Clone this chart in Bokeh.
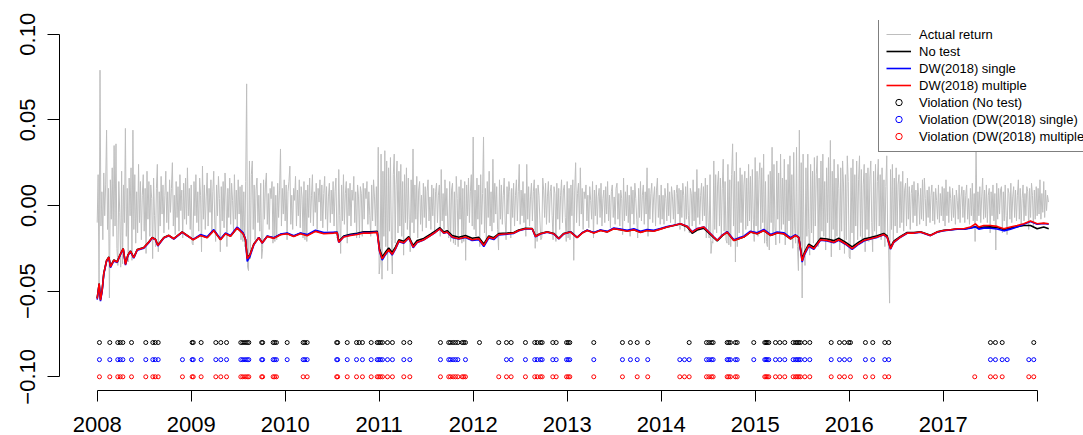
from bokeh.plotting import figure
from bokeh.models import Range1d, FixedTicker, Legend, LegendItem
from bokeh.embed import file_html
from bokeh.resources import INLINE

# ---------------- data ----------------
year_ticks = [2008, 2009, 2010, 2011, 2012, 2013, 2014, 2015, 2016, 2017, 2018]
y_ticks = [-0.1, -0.05, 0.0, 0.05, 0.1]
y_tick_labels = {-0.1: "\u22120.10", -0.05: "\u22120.05", 0.0: "0.00", 0.05: "0.05", 0.1: "0.10"}

# actual return, one value every obs_step years, stored in units of 0.001
obs_start = 2008.0
obs_step = 0.01
ret_unit = 0.001
ret_2008 = [-10, 18, -50, 79, -12, 8, -20, 19, -6, 12, 44, -14, 10, -54, 15, -8, 22, -18, 35, -12,
            36, -25, -35, 14, -4, -36, 20, -34, 12, -10, 45, -18, 10, -33, 16, -6, 22, -32, 44, -14,
            18, -22, 8, -16, 24, -10, 14, -20, 6, 18, -15, 10, -28, 20, -8, 14, -18, 12, 4, -31,
            16, -6, -24, 10, 24, -27, 8, -12, 17, -5, 12, -16, 6, 20, -10, 8, -14, 15, -4, 10,
            25, -12, 6, -17, 14, -7, 11, -15, 18, -3, 9, -19, 13, -8, 16, -11, 22, -6, 10, -14]
ret_2009 = [12, -22, -23, 14, -6, 18, -10, 8, -15, 16, 6, -27, 23, -8, 12, -14, 5, 19, -12, 10,
            -4, 15, -16, 8, 20, -9, -21, 12, -6, 17, 4, -27, 11, -9, 14, -13, 19, 5, -24, 10,
            -7, 16, -11, 13, 3, -15, 18, -8, 9, -12, 15, -5, 11, -20, 12, -21, 8, -24, 14, 71,
            -36, -38, 26, -31, 18, 26, -14, 12, -20, 9, 16, -10, 6, -15, 13, -31, -25, 15, -8, 12,
            19, -11, 7, -14, 10, 4, 14, -22, 11, -21, 6, -20, 13, -7, 9, 33, -12, 10, -5, 15]
ret_2010 = [-9, 12, -20, 8, 14, 23, -11, 6, -14, 10, 3, 17, -12, 9, -6, 15, -13, 11, 5, -19,
            14, -20, 9, -21, 12, -7, 16, -10, 6, 18, -12, 8, -4, 13, -14, 10, 2, 15, -9, 12,
            -13, 7, 17, -8, 11, -15, 5, 13, -10, 9, -5, 14, -12, 8, 16, -19, -18, 21, -6, -28,
            12, -9, 18, -11, 7, 14, -22, 10, -6, 13, -12, 9, 3, 17, -10, 8, -19, 12, 5, -19,
            11, 7, -18, 13, -8, 10, 4, 14, -11, 8, -6, -18, 12, -9, 15, 5, -12, 11, -17, 34]
ret_2011 = [-40, -33, 30, -43, 20, -18, 32, -24, 26, -38, 22, -15, 28, -20, -40, 18, 30, -22, 12, 26,
            -16, 20, -12, 24, -18, 14, -29, 18, -10, 22, -14, 16, -8, -27, 15, -10, 33, -16, 12, -8,
            17, -19, 9, 14, -11, 6, -15, 13, -7, 11, -13, 8, 15, -9, 5, -14, 12, -6, 10, -15,
            8, 13, -10, 6, 12, -18, 21, -9, 7, -14, 15, -6, 10, -12, -19, 14, -21, 9, 13, -22,
            8, -23, 17, 4, -24, 11, -8, 15, -22, 10, -21, 14, -32, 12, -6, 16, -10, 8, 18, -12]
ret_2012 = [40, -14, 9, -18, 16, -8, 12, -24, 18, -11, 7, 40, -16, 10, -20, 14, -7, 20, -12, 8,
            -15, 27, -10, 13, -5, 11, -14, -26, 15, -8, 12, -11, 6, 16, -9, -20, 11, -5, 14, 8,
            -19, 10, -7, 13, -12, 6, 15, -9, 8, 24, -11, 9, -6, 14, -10, 7, -18, 24, -8, 11,
            -12, 5, 13, -9, 8, 15, -25, 10, -21, 12, 6, -9, -20, -19, 16, 9, -7, 13, -11, 5,
            14, -10, 8, 12, -6, -20, 11, 7, -21, 13, -8, 10, -14, 6, 15, -10, 9, 12, -7, -21]
ret_2013 = [14, -19, 10, -20, 12, -6, 15, -32, 9, 25, -10, 7, 13, -12, 22, -5, 10, -14, 8, 4,
            12, -9, 6, -13, 11, 3, -8, 14, -19, 9, -6, 12, -11, 5, 10, -7, 13, -12, 4, 9,
            -10, 11, -5, 14, -9, 6, -13, 8, 12, -7, 5, -11, 10, 13, -8, 7, -12, 9, 4, -17,
            16, -9, 8, -6, 12, -10, 6, -18, 11, -5, 9, -11, 13, 4, -8, -19, 10, -7, 14, -9,
            6, 12, -11, 8, -5, 22, -18, 10, -8, 7, 13, -10, 5, 11, -12, 9, 16, -7, 6, -11]
ret_2014 = [12, -8, 6, -11, 10, 4, -9, 13, -6, 8, -10, 11, 5, -8, 9, -12, 7, 12, -5, 10,
            -14, 9, -7, 13, 6, -15, 11, -8, 14, -6, -16, 10, 7, -12, 15, -9, 8, -13, 21, -7,
            10, -11, 6, 13, -9, 11, -6, 16, -19, 12, -10, -19, 18, -28, -21, -22, 26, -14, 18, -16,
            12, 20, -12, 16, -18, 10, 27, -15, 14, -20, -22, 24, -23, 15, -24, 18, 36, -12, 20, -33,
            31, -24, 14, -16, 22, -10, 18, -18, 12, 20, -14, 16, -12, 24, -9, 17, -15, 21, -8, -21]
ret_2015 = [28, -12, 20, -18, 15, 25, -14, 22, -10, 30, -22, 14, -21, -24, 18, -26, 20, -10, 34, -16,
            24, -12, -23, 26, -8, 19, -22, 30, -14, 16, -11, 27, -23, 15, -18, 24, -9, 29, -20, 18,
            -25, 31, -12, -22, 34, -24, -38, 44, -26, 25, -54, 30, -20, -35, 22, -18, 30, -14, -29, 24,
            -16, 20, -22, 28, -12, 18, 29, -24, 16, -20, 26, -15, 30, -18, 14, -26, 22, -10, 28, -21,
            38, -30, 20, -14, 27, -22, 16, -18, 24, 10, -26, 22, -15, 26, 12, -28, 18, -20, 29, 14]
ret_2016 = [-30, -31, 22, -16, 27, -24, 18, -12, 26, -20, 15, 29, -18, 21, -22, 12, 24, -27, 19, -14,
            22, -21, 16, 26, -10, -27, 20, -15, 24, -19, 14, 27, -12, 18, -20, 22, -16, 15, -24, 11,
            29, -18, -26, -57, 21, -14, 24, -20, 16, -12, 22, -16, 12, 18, -13, 14, -10, 20, -15, 9,
            13, -12, 16, -8, 11, -14, 7, 12, -10, 14, -6, 9, -12, 13, 5, -11, 10, -8, 15, -9,
            16, 4, -12, 9, -7, 11, -10, 6, 12, -9, 8, -11, 10, 3, -8, 12, -10, 7, -6, 11]
ret_2017 = [-9, 10, -12, 15, -6, 8, -10, 11, 4, -9, 10, -7, 6, -11, 9, 3, -8, 12, -10, 5,
            11, -7, 9, -10, 6, 12, -8, 4, -11, 10, -6, 13, -9, 7, -21, 35, -9, 8, -6, 11,
            -10, 5, 16, -8, 9, -7, 12, -10, 6, 10, -16, 8, -6, 12, -9, 7, -26, 13, -8, 10,
            -5, 9, 11, -16, 8, -9, 12, -6, -17, 10, 7, -8, 13, -10, 5, 11, -7, 9, -9, 6,
            15, -8, 10, -11, 4, 12, -9, 7, -6, 11, 8, -14, 10, -7, 13, 6, -13, 9, -8, 11]
ret_2018 = [-6, 10, -5, 15, -8, 7, -4, 14, -7, 9, -3, 6, 2]

# VaR forecasts (dates in decimal years)
var_t = [2008.000, 2008.021, 2008.035, 2008.053, 2008.070, 2008.099, 2008.124, 2008.141, 2008.177, 2008.213,
         2008.241, 2008.277, 2008.301, 2008.326, 2008.354, 2008.389, 2008.426, 2008.496, 2008.549, 2008.585,
         2008.620, 2008.645, 2008.709, 2008.762, 2008.815, 2008.904, 2008.957, 2009.021, 2009.099, 2009.170,
         2009.240, 2009.312, 2009.365, 2009.418, 2009.489, 2009.553, 2009.578, 2009.596, 2009.624, 2009.666,
         2009.719, 2009.755, 2009.809, 2009.879, 2009.950, 2010.021, 2010.091, 2010.163, 2010.234, 2010.322,
         2010.411, 2010.517, 2010.553, 2010.570, 2010.623, 2010.695, 2010.766, 2010.836, 2010.907, 2010.979,
         2011.003, 2011.032, 2011.067, 2011.102, 2011.138, 2011.173, 2011.209, 2011.262, 2011.315, 2011.362,
         2011.404, 2011.474, 2011.546, 2011.599, 2011.645, 2011.687, 2011.723, 2011.777, 2011.847, 2011.918,
         2011.989, 2012.060, 2012.113, 2012.166, 2012.219, 2012.272, 2012.362, 2012.432, 2012.485, 2012.556,
         2012.628, 2012.663, 2012.716, 2012.787, 2012.857, 2012.911, 2012.964, 2013.035, 2013.106, 2013.160,
         2013.213, 2013.283, 2013.354, 2013.426, 2013.496, 2013.567, 2013.638, 2013.709, 2013.780, 2013.851,
         2013.921, 2013.992, 2014.064, 2014.134, 2014.205, 2014.277, 2014.330, 2014.383, 2014.453, 2014.506,
         2014.559, 2014.596, 2014.649, 2014.702, 2014.773, 2014.826, 2014.879, 2014.950, 2015.021, 2015.092,
         2015.163, 2015.234, 2015.304, 2015.376, 2015.429, 2015.464, 2015.500, 2015.524, 2015.570, 2015.624,
         2015.695, 2015.766, 2015.836, 2015.889, 2015.960, 2016.032, 2016.102, 2016.156, 2016.226, 2016.298,
         2016.368, 2016.404, 2016.440, 2016.474, 2016.546, 2016.617, 2016.688, 2016.759, 2016.865, 2016.936,
         2017.006, 2017.078, 2017.149, 2017.219, 2017.290, 2017.343, 2017.379, 2017.432, 2017.503, 2017.574,
         2017.645, 2017.716, 2017.787, 2017.858, 2017.929, 2018.000, 2018.070, 2018.123]
var_notest = [-0.0540, -0.0456, -0.0548, -0.0492, -0.0396, -0.0322, -0.0300, -0.0356, -0.0318, -0.0328,
              -0.0290, -0.0251, -0.0341, -0.0290, -0.0265, -0.0303, -0.0257, -0.0245, -0.0213, -0.0187,
              -0.0197, -0.0231, -0.0187, -0.0174, -0.0193, -0.0154, -0.0174, -0.0199, -0.0174, -0.0187,
              -0.0145, -0.0199, -0.0164, -0.0179, -0.0131, -0.0164, -0.0199, -0.0305, -0.0287, -0.0225,
              -0.0187, -0.0217, -0.0180, -0.0190, -0.0169, -0.0163, -0.0179, -0.0162, -0.0174, -0.0148,
              -0.0162, -0.0158, -0.0156, -0.0209, -0.0178, -0.0168, -0.0162, -0.0154, -0.0154, -0.0151,
              -0.0252, -0.0300, -0.0272, -0.0248, -0.0274, -0.0243, -0.0200, -0.0209, -0.0181, -0.0234,
              -0.0205, -0.0192, -0.0167, -0.0148, -0.0130, -0.0154, -0.0147, -0.0175, -0.0185, -0.0175,
              -0.0191, -0.0186, -0.0225, -0.0178, -0.0188, -0.0164, -0.0161, -0.0158, -0.0143, -0.0133,
              -0.0134, -0.0178, -0.0163, -0.0153, -0.0163, -0.0191, -0.0163, -0.0153, -0.0186, -0.0159,
              -0.0144, -0.0159, -0.0145, -0.0154, -0.0135, -0.0141, -0.0149, -0.0141, -0.0156, -0.0145,
              -0.0149, -0.0137, -0.0126, -0.0117, -0.0108, -0.0126, -0.0162, -0.0143, -0.0132, -0.0160,
              -0.0188, -0.0207, -0.0177, -0.0156, -0.0204, -0.0194, -0.0184, -0.0155, -0.0165, -0.0146,
              -0.0175, -0.0161, -0.0165, -0.0194, -0.0174, -0.0186, -0.0312, -0.0274, -0.0226, -0.0244,
              -0.0192, -0.0196, -0.0205, -0.0191, -0.0214, -0.0242, -0.0214, -0.0196, -0.0187, -0.0177,
              -0.0163, -0.0178, -0.0244, -0.0208, -0.0180, -0.0158, -0.0158, -0.0153, -0.0173, -0.0154,
              -0.0145, -0.0142, -0.0137, -0.0138, -0.0130, -0.0124, -0.0132, -0.0126, -0.0125, -0.0128,
              -0.0140, -0.0132, -0.0124, -0.0117, -0.0117, -0.0136, -0.0126, -0.0136]
var_single = [-0.0550, -0.0460, -0.0558, -0.0500, -0.0402, -0.0328, -0.0305, -0.0362, -0.0324, -0.0333,
              -0.0294, -0.0255, -0.0348, -0.0294, -0.0269, -0.0308, -0.0261, -0.0249, -0.0217, -0.0190,
              -0.0200, -0.0236, -0.0190, -0.0177, -0.0196, -0.0157, -0.0177, -0.0198, -0.0170, -0.0183,
              -0.0141, -0.0195, -0.0160, -0.0175, -0.0126, -0.0160, -0.0197, -0.0326, -0.0300, -0.0230,
              -0.0186, -0.0220, -0.0178, -0.0188, -0.0167, -0.0161, -0.0177, -0.0160, -0.0170, -0.0144,
              -0.0158, -0.0156, -0.0156, -0.0216, -0.0182, -0.0172, -0.0166, -0.0158, -0.0158, -0.0155,
              -0.0266, -0.0318, -0.0287, -0.0262, -0.0289, -0.0255, -0.0211, -0.0220, -0.0190, -0.0246,
              -0.0216, -0.0201, -0.0176, -0.0156, -0.0137, -0.0162, -0.0156, -0.0186, -0.0196, -0.0187,
              -0.0204, -0.0199, -0.0240, -0.0190, -0.0199, -0.0172, -0.0167, -0.0163, -0.0147, -0.0137,
              -0.0137, -0.0183, -0.0166, -0.0156, -0.0166, -0.0195, -0.0166, -0.0154, -0.0187, -0.0159,
              -0.0144, -0.0158, -0.0143, -0.0151, -0.0131, -0.0137, -0.0144, -0.0136, -0.0151, -0.0140,
              -0.0145, -0.0134, -0.0123, -0.0115, -0.0106, -0.0121, -0.0153, -0.0134, -0.0125, -0.0154,
              -0.0183, -0.0203, -0.0173, -0.0152, -0.0200, -0.0189, -0.0179, -0.0150, -0.0159, -0.0140,
              -0.0169, -0.0155, -0.0159, -0.0188, -0.0171, -0.0186, -0.0330, -0.0288, -0.0238, -0.0256,
              -0.0203, -0.0207, -0.0217, -0.0203, -0.0226, -0.0256, -0.0226, -0.0207, -0.0196, -0.0186,
              -0.0171, -0.0186, -0.0255, -0.0216, -0.0185, -0.0162, -0.0162, -0.0156, -0.0176, -0.0156,
              -0.0147, -0.0143, -0.0138, -0.0139, -0.0132, -0.0125, -0.0138, -0.0132, -0.0133, -0.0137,
              -0.0148, -0.0138, -0.0125, -0.0110, -0.0094, -0.0109, -0.0105, -0.0109]
var_multiple = [-0.0544, -0.0456, -0.0553, -0.0495, -0.0398, -0.0324, -0.0301, -0.0359, -0.0320, -0.0330,
                -0.0291, -0.0252, -0.0344, -0.0291, -0.0266, -0.0305, -0.0258, -0.0246, -0.0214, -0.0188,
                -0.0198, -0.0233, -0.0188, -0.0175, -0.0194, -0.0155, -0.0175, -0.0200, -0.0175, -0.0188,
                -0.0146, -0.0200, -0.0165, -0.0180, -0.0132, -0.0165, -0.0200, -0.0311, -0.0291, -0.0227,
                -0.0188, -0.0219, -0.0181, -0.0192, -0.0171, -0.0165, -0.0181, -0.0165, -0.0177, -0.0151,
                -0.0165, -0.0161, -0.0159, -0.0214, -0.0184, -0.0175, -0.0169, -0.0161, -0.0161, -0.0157,
                -0.0262, -0.0311, -0.0282, -0.0258, -0.0285, -0.0252, -0.0208, -0.0217, -0.0188, -0.0243,
                -0.0214, -0.0200, -0.0175, -0.0155, -0.0136, -0.0161, -0.0155, -0.0184, -0.0194, -0.0184,
                -0.0200, -0.0194, -0.0233, -0.0184, -0.0194, -0.0169, -0.0165, -0.0161, -0.0146, -0.0136,
                -0.0136, -0.0181, -0.0165, -0.0155, -0.0165, -0.0194, -0.0165, -0.0155, -0.0188, -0.0161,
                -0.0146, -0.0161, -0.0146, -0.0155, -0.0136, -0.0142, -0.0150, -0.0142, -0.0157, -0.0146,
                -0.0150, -0.0138, -0.0126, -0.0117, -0.0107, -0.0122, -0.0155, -0.0136, -0.0126, -0.0155,
                -0.0184, -0.0204, -0.0175, -0.0155, -0.0204, -0.0194, -0.0184, -0.0155, -0.0165, -0.0146,
                -0.0175, -0.0161, -0.0165, -0.0194, -0.0175, -0.0188, -0.0324, -0.0282, -0.0233, -0.0252,
                -0.0200, -0.0204, -0.0214, -0.0200, -0.0223, -0.0252, -0.0223, -0.0204, -0.0194, -0.0184,
                -0.0169, -0.0184, -0.0252, -0.0214, -0.0184, -0.0161, -0.0161, -0.0155, -0.0175, -0.0155,
                -0.0146, -0.0142, -0.0136, -0.0136, -0.0126, -0.0107, -0.0126, -0.0117, -0.0117, -0.0122,
                -0.0136, -0.0126, -0.0117, -0.0107, -0.0091, -0.0107, -0.0103, -0.0107]

# VaR violation dates (decimal years)
viol_notest = [2008.024, 2008.134, 2008.219, 2008.245, 2008.273, 2008.365, 2008.517, 2008.592, 2008.617, 2008.649,
               2009.010, 2009.022, 2009.106, 2009.262, 2009.315, 2009.376, 2009.528, 2009.549, 2009.574, 2009.596,
               2009.613, 2009.750, 2009.760, 2009.872, 2009.889, 2009.907, 2010.021, 2010.191, 2010.209, 2010.234,
               2010.548, 2010.558, 2010.660, 2010.759, 2010.787, 2010.822, 2010.915, 2010.979, 2010.996, 2011.014,
               2011.035, 2011.088, 2011.141, 2011.262, 2011.326, 2011.652, 2011.740, 2011.759, 2011.787, 2011.812,
               2011.837, 2011.883, 2011.900, 2011.918, 2012.067, 2012.272, 2012.354, 2012.404, 2012.556, 2012.655,
               2012.681, 2012.716, 2012.734, 2012.847, 2012.883, 2012.993, 2013.011, 2013.028, 2013.283, 2013.588,
               2013.673, 2013.745, 2013.857, 2014.298, 2014.482, 2014.507, 2014.535, 2014.553, 2014.702, 2014.719,
               2014.737, 2014.790, 2014.809, 2014.985, 2015.102, 2015.115, 2015.128, 2015.145, 2015.216, 2015.262,
               2015.315, 2015.404, 2015.429, 2015.447, 2015.464, 2015.482, 2015.528, 2015.581, 2015.809, 2015.897,
               2015.950, 2015.996, 2016.014, 2016.173, 2016.251, 2016.379, 2016.421, 2017.503, 2017.556, 2017.628,
               2017.964]
viol_single = [2008.024, 2008.134, 2008.219, 2008.245, 2008.273, 2008.365, 2008.517, 2008.592, 2008.617, 2008.649,
               2008.907, 2009.010, 2009.022, 2009.106, 2009.262, 2009.315, 2009.376, 2009.528, 2009.549, 2009.574,
               2009.596, 2009.613, 2009.750, 2009.760, 2009.872, 2009.889, 2009.907, 2010.021, 2010.191, 2010.209,
               2010.234, 2010.548, 2010.558, 2010.660, 2010.759, 2010.822, 2010.915, 2010.979, 2010.996, 2011.014,
               2011.035, 2011.088, 2011.141, 2011.262, 2011.326, 2011.652, 2011.740, 2011.759, 2011.787, 2011.812,
               2011.837, 2011.918, 2012.354, 2012.404, 2012.556, 2012.655, 2012.681, 2012.716, 2012.734, 2012.847,
               2012.883, 2012.993, 2013.011, 2013.028, 2013.283, 2013.588, 2013.673, 2013.745, 2013.857, 2014.198,
               2014.248, 2014.298, 2014.482, 2014.507, 2014.535, 2014.553, 2014.702, 2014.719, 2014.737, 2014.790,
               2014.809, 2014.985, 2015.102, 2015.115, 2015.128, 2015.145, 2015.216, 2015.262, 2015.315, 2015.404,
               2015.429, 2015.447, 2015.464, 2015.482, 2015.528, 2015.581, 2015.809, 2015.897, 2015.950, 2016.005,
               2016.173, 2016.251, 2016.379, 2016.421, 2017.503, 2017.556, 2017.628, 2017.681, 2017.911, 2017.964]
viol_multiple = [2008.024, 2008.134, 2008.219, 2008.245, 2008.273, 2008.365, 2008.517, 2008.592, 2008.617, 2008.649,
                 2008.907, 2009.010, 2009.022, 2009.106, 2009.262, 2009.315, 2009.376, 2009.528, 2009.549, 2009.574,
                 2009.596, 2009.613, 2009.750, 2009.760, 2009.872, 2009.889, 2009.907, 2010.191, 2010.234, 2010.548,
                 2010.558, 2010.660, 2010.759, 2010.822, 2010.915, 2010.979, 2010.996, 2011.014, 2011.035, 2011.088,
                 2011.141, 2011.262, 2011.326, 2011.652, 2011.740, 2011.759, 2011.787, 2011.812, 2011.837, 2011.883,
                 2011.900, 2011.918, 2012.272, 2012.354, 2012.404, 2012.556, 2012.655, 2012.681, 2012.716, 2012.734,
                 2012.847, 2012.883, 2012.993, 2013.011, 2013.028, 2013.283, 2013.588, 2013.745, 2013.857, 2014.198,
                 2014.248, 2014.298, 2014.482, 2014.507, 2014.535, 2014.553, 2014.702, 2014.719, 2014.737, 2014.790,
                 2014.809, 2015.102, 2015.115, 2015.128, 2015.145, 2015.216, 2015.262, 2015.315, 2015.404, 2015.429,
                 2015.447, 2015.464, 2015.482, 2015.528, 2015.581, 2015.809, 2015.897, 2015.950, 2016.014, 2016.173,
                 2016.251, 2016.379, 2016.421, 2017.336, 2017.503, 2017.556, 2017.628, 2017.911, 2017.964]
viol_level_notest = -0.08
viol_level_single = -0.09
viol_level_multiple = -0.10

# ---------------- figure ----------------
actual_raw = (ret_2008 + ret_2009 + ret_2010 + ret_2011 + ret_2012 + ret_2013 +
              ret_2014 + ret_2015 + ret_2016 + ret_2017 + ret_2018)
actual = [v * ret_unit for v in actual_raw]
actual_t = [obs_start + obs_step * i for i in range(len(actual))]

FONT = "Liberation Sans"

p = figure(width=1083, height=435, output_backend="svg", toolbar_location=None,
           x_range=Range1d(2007.599, 2018.493), y_range=Range1d(-0.108, 0.108),
           min_border_left=59, min_border_right=0, min_border_top=20, min_border_bottom=45)
p.outline_line_color = None
p.grid.visible = False
p.background_fill_color = "white"
p.border_fill_color = "white"

r_act = p.line(actual_t, actual, line_color="#BEBEBE", line_width=1)
r_no = p.line(var_t, var_notest, line_color="black", line_width=1.6)
r_si = p.line(var_t, var_single, line_color="blue", line_width=1.6)
r_mu = p.line(var_t, var_multiple, line_color="red", line_width=1.6)

r_vno = p.scatter(viol_notest, [viol_level_notest] * len(viol_notest), marker="circle", size=4,
                  line_color="black", fill_color=None, line_width=1)
r_vsi = p.scatter(viol_single, [viol_level_single] * len(viol_single), marker="circle", size=4,
                  line_color="blue", fill_color=None, line_width=1)
r_vmu = p.scatter(viol_multiple, [viol_level_multiple] * len(viol_multiple), marker="circle", size=4,
                  line_color="red", fill_color=None, line_width=1)

xa = p.xaxis[0]
xa.ticker = FixedTicker(ticks=year_ticks)
xa.bounds = (year_ticks[0], year_ticks[-1])
xa.major_label_overrides = {2018: ""}
xa.major_tick_out = 11
xa.major_tick_in = 0
xa.minor_tick_out = 0
xa.minor_tick_in = 0
xa.major_label_standoff = 15
xa.major_label_text_font = FONT
xa.major_label_text_font_size = "22px"
xa.major_label_text_color = "black"
xa.axis_line_color = "black"
xa.major_tick_line_color = "black"

ya = p.yaxis[0]
ya.ticker = FixedTicker(ticks=y_ticks)
ya.bounds = (y_ticks[0], y_ticks[-1])
ya.major_label_overrides = y_tick_labels
ya.major_label_orientation = "vertical"
ya.major_tick_out = 12
ya.major_tick_in = 0
ya.minor_tick_out = 0
ya.minor_tick_in = 0
ya.major_label_standoff = 12
ya.major_label_text_font = FONT
ya.major_label_text_font_size = "22px"
ya.major_label_text_color = "black"
ya.axis_line_color = "black"
ya.major_tick_line_color = "black"

legend = Legend(items=[
    LegendItem(label="Actual return", renderers=[r_act]),
    LegendItem(label="No test", renderers=[r_no]),
    LegendItem(label="DW(2018) single", renderers=[r_si]),
    LegendItem(label="DW(2018) multiple", renderers=[r_mu]),
    LegendItem(label="Violation (No test)", renderers=[r_vno]),
    LegendItem(label="Violation (DW(2018) single)", renderers=[r_vsi]),
    LegendItem(label="Violation (DW(2018) multiple)", renderers=[r_vmu]),
], location=(819, 238))
legend.margin = 0
legend.padding = 7
legend.spacing = 1
legend.glyph_width = 25
legend.glyph_height = 16
legend.label_height = 16
legend.label_standoff = 8
legend.label_text_font = FONT
legend.label_text_font_size = "13px"
legend.label_text_color = "black"
legend.border_line_color = "black"
legend.border_line_width = 1
legend.background_fill_color = "white"
legend.background_fill_alpha = 1.0
p.add_layout(legend)

open("out.html", "w").write(file_html(p, INLINE))
